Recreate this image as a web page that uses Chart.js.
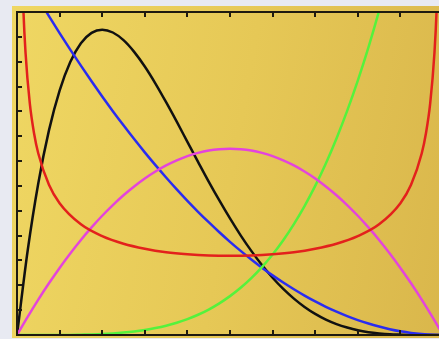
<!DOCTYPE html>
<html>
<head>
<meta charset="utf-8">
<script src="https://cdn.jsdelivr.net/npm/chart.js@4/dist/chart.umd.min.js"></script>
<style>
	html, body { margin: 0; padding: 0; overflow: hidden; background: #e8eaf2; }
	#panel {
		position: absolute; left: 12px; top: 6px; width: 440px; height: 332px;
		background: linear-gradient(100deg, #efd763 0%, #e6c856 50%, #d9b64b 100%);
	}
	#wrap { position: absolute; left: 0; top: 0; width: 460px; height: 339px; }
</style>
</head>
<body>
<div id="panel"></div>
<div id="wrap"><canvas id="beta"></canvas></div>
<script>
// x positions shared by the smooth curves
const xs = [0, 0.025, 0.05, 0.075, 0.1, 0.125, 0.15, 0.175, 0.2, 0.225, 0.25, 0.275, 0.3, 0.325, 0.35, 0.375, 0.4, 0.425, 0.45, 0.475, 0.5,
	0.525, 0.55, 0.575, 0.6, 0.625, 0.65, 0.675, 0.7, 0.725, 0.75, 0.775, 0.8, 0.825, 0.85, 0.875, 0.9, 0.925, 0.95, 0.975, 1];

const blackY = [0, 0.678, 1.222, 1.647, 1.968, 2.198, 2.349, 2.432, 2.458, 2.435, 2.373, 2.279, 2.161, 2.024, 1.874, 1.717, 1.555, 1.394, 1.235, 1.083, 0.938,
	0.802, 0.677, 0.563, 0.461, 0.371, 0.293, 0.226, 0.170, 0.124, 0.088, 0.060, 0.038, 0.023, 0.013, 0.006, 0.003, 0.001, 0, 0, 0];
const blueY = [3, 2.852, 2.708, 2.567, 2.43, 2.297, 2.168, 2.042, 1.92, 1.802, 1.688, 1.577, 1.47, 1.367, 1.268, 1.172, 1.08, 0.992, 0.908, 0.827, 0.75,
	0.677, 0.608, 0.542, 0.48, 0.422, 0.368, 0.317, 0.27, 0.227, 0.188, 0.152, 0.12, 0.092, 0.068, 0.047, 0.03, 0.017, 0.008, 0.002, 0];
const magentaY = [0, 0.146, 0.285, 0.416, 0.54, 0.656, 0.765, 0.866, 0.96, 1.046, 1.125, 1.196, 1.26, 1.316, 1.365, 1.406, 1.44, 1.466, 1.485, 1.496, 1.5,
	1.496, 1.485, 1.466, 1.44, 1.406, 1.365, 1.316, 1.26, 1.196, 1.125, 1.046, 0.96, 0.866, 0.765, 0.656, 0.54, 0.416, 0.285, 0.146, 0];
const greenY = [0, 0, 0, 0, 0.001, 0.001, 0.003, 0.005, 0.008, 0.013, 0.02, 0.029, 0.041, 0.056, 0.075, 0.099, 0.128, 0.163, 0.205, 0.255, 0.313,
	0.38, 0.458, 0.547, 0.648, 0.763, 0.893, 1.038, 1.2, 1.381, 1.582, 1.804, 2.048, 2.316, 2.61, 2.931, 3.28, 3.66, 4.073, 4.518, 5];

// the red curve needs its own, denser x positions near both ends
const redX = [0.001, 0.003, 0.006, 0.01, 0.015, 0.02, 0.03, 0.04, 0.05, 0.075, 0.1, 0.15, 0.2, 0.25, 0.3, 0.35, 0.4, 0.45, 0.5,
	0.55, 0.6, 0.65, 0.7, 0.75, 0.8, 0.85, 0.9, 0.925, 0.95, 0.96, 0.97, 0.98, 0.985, 0.99, 0.994, 0.997, 0.999];
const redY = [10.07, 5.82, 4.122, 3.199, 2.619, 2.274, 1.866, 1.624, 1.461, 1.209, 1.061, 0.891, 0.796, 0.735, 0.695, 0.667, 0.65, 0.64, 0.637,
	0.64, 0.65, 0.667, 0.695, 0.735, 0.796, 0.891, 1.061, 1.209, 1.461, 1.624, 1.866, 2.274, 2.619, 3.199, 4.122, 5.82, 10.07];

const xTicks = { min: 0, max: 1, step: 0.1 };
const yTicks = { min: 0, max: 2.6, step: 0.2 };

function pts(xv, yv) {
	return xv.map((x, i) => ({ x: x, y: yv[i] }));
}

function curve(label, xv, yv, color) {
	return {
		label: label,
		data: pts(xv, yv),
		borderColor: color,
		borderWidth: 2.5,
		pointRadius: 0,
		fill: false,
		cubicInterpolationMode: "monotone",
		clip: 0,
	};
}

// box on left/top/bottom with short inward ticks
const frame = {
	id: "frame",
	afterDatasetsDraw(chart) {
		const a = chart.chartArea;
		const ctx = chart.ctx;
		const sx = chart.scales.x;
		const sy = chart.scales.y;
		ctx.save();
		ctx.strokeStyle = "#1e1a10";
		ctx.lineWidth = 2;
		ctx.beginPath();
		ctx.moveTo(a.right, a.top);
		ctx.lineTo(a.left, a.top);
		ctx.lineTo(a.left, a.bottom);
		ctx.lineTo(a.right, a.bottom);
		ctx.stroke();
		ctx.beginPath();
		sx.ticks.forEach((t) => {
			const px = Math.round(sx.getPixelForValue(t.value));
			ctx.moveTo(px, a.bottom);
			ctx.lineTo(px, a.bottom - 5);
			ctx.moveTo(px, a.top);
			ctx.lineTo(px, a.top + 5);
		});
		sy.ticks.forEach((t) => {
			const py = Math.round(sy.getPixelForValue(t.value));
			ctx.moveTo(a.left, py);
			ctx.lineTo(a.left + 5, py);
		});
		ctx.stroke();
		ctx.restore();
	},
};

const hidden = {
	grid: { display: false, drawTicks: false },
	border: { display: false },
};

new Chart(document.getElementById("beta").getContext("2d"), {
	type: "line",
	data: {
		datasets: [
			curve("α=β=0.5", redX, redY, "#e3211c"),
			curve("α=2, β=2", xs, magentaY, "#e444dc"),
			curve("α=5, β=1", xs, greenY, "#55f23c"),
			curve("α=1, β=3", xs, blueY, "#2a2cf0"),
			curve("α=2, β=5", xs, blackY, "#111111"),
		],
	},
	options: {
		responsive: true,
		maintainAspectRatio: false,
		animation: false,
		layout: { padding: { left: 17, top: 12, right: 17, bottom: 4 } },
		plugins: { legend: { display: false }, tooltip: { enabled: false } },
		scales: {
			x: {
				type: "linear",
				min: xTicks.min,
				max: xTicks.max,
				ticks: { display: false, stepSize: xTicks.step },
				...hidden,
			},
			y: {
				min: yTicks.min,
				max: yTicks.max,
				ticks: { display: false, stepSize: yTicks.step },
				...hidden,
			},
		},
	},
	plugins: [frame],
});
</script>
</body>
</html>
